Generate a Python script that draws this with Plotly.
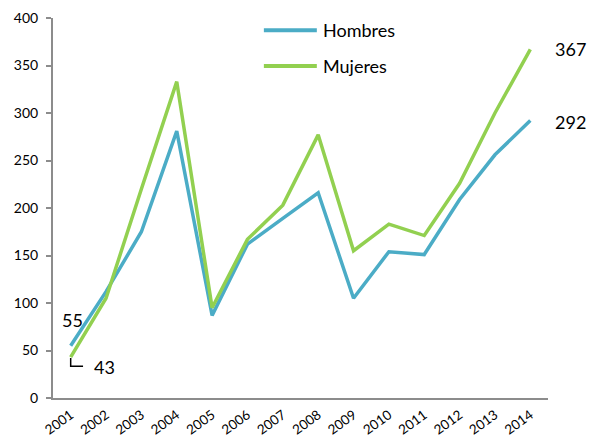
import plotly.graph_objects as go

years = ["2001", "2002", "2003", "2004", "2005", "2006", "2007",
         "2008", "2009", "2010", "2011", "2012", "2013", "2014"]
hombres = [55, 112, 175, 281, 87, 162, 189, 216, 105, 154, 151, 209, 256, 292]
mujeres = [43, 105, 220, 333, 95, 167, 203, 277, 155, 183, 171, 226, 300, 367]
series_names = ["Hombres", "Mujeres"]
y_ticks = [0, 50, 100, 150, 200, 250, 300, 350, 400]

C_H = "#4BACC6"
C_M = "#92D050"
FONT = "Lato"
AXIS = "#8c8c8c"

fig = go.Figure()
fig.add_trace(go.Scatter(x=years, y=hombres, name=series_names[0], mode="lines",
                         line=dict(color=C_H, width=3.5), cliponaxis=False,
                         showlegend=False))
fig.add_trace(go.Scatter(x=years, y=mujeres, name=series_names[1], mode="lines",
                         line=dict(color=C_M, width=3.5), cliponaxis=False,
                         showlegend=False))

lab = dict(size=18, color="black", family=FONT)
fig.add_annotation(x=0, y=hombres[0], text=str(hombres[0]), showarrow=False,
                   xanchor="center", yanchor="middle", xshift=2, yshift=26, font=lab)
fig.add_annotation(x=0, y=mujeres[0], text=str(mujeres[0]), showarrow=False,
                   xanchor="left", yanchor="middle", xshift=21, yshift=-10, font=lab)
fig.add_annotation(x=13, y=hombres[-1], text=str(hombres[-1]), showarrow=False,
                   xanchor="left", yanchor="middle", xshift=23, yshift=-1, font=lab)
fig.add_annotation(x=13, y=mujeres[-1], text=str(mujeres[-1]), showarrow=False,
                   xanchor="left", yanchor="middle", xshift=23, yshift=0, font=lab)
# leader line for the 43 label
fig.add_shape(type="path", xref="x", yref="y",
              path="M 0,%g L 0,%g L 0.35,%g" % (mujeres[0] - 1, mujeres[0] - 9.5, mujeres[0] - 9.5),
              line=dict(color="black", width=1.5))

# legend drawn manually (long line keys)
leg_y = [0.968, 0.874]
for name, col, ly in zip(series_names, [C_H, C_M], leg_y):
    fig.add_shape(type="line", xref="paper", yref="paper", x0=0.426, x1=0.533,
                  y0=ly, y1=ly, line=dict(color=col, width=4))
    fig.add_annotation(xref="paper", yref="paper", x=0.541, y=ly, text=name,
                       showarrow=False, xanchor="left", yanchor="middle",
                       font=dict(size=18, color="black", family=FONT))

fig.update_layout(
    width=590, height=439,
    margin=dict(l=53, r=42, t=18, b=41, autoexpand=False),
    plot_bgcolor="white", paper_bgcolor="white",
    font=dict(family=FONT, color="black", size=13),
    showlegend=False,
    xaxis=dict(type="category", showgrid=False, showline=True, linecolor=AXIS,
               linewidth=2, ticks="", tickangle=-36, tickfont=dict(size=13.5),
               ticklabelstandoff=2,
               range=[-0.5, 13.5], automargin=False),
    yaxis=dict(range=[0, 400], tickvals=y_ticks, showgrid=False, showline=True,
               linecolor=AXIS, linewidth=2, ticks="outside", ticklen=5,
               tickwidth=1.5, tickcolor=AXIS, zeroline=False,
               tickfont=dict(size=14), ticklabelstandoff=5, automargin=False),
)

fig.write_html("out.html", config={"displayModeBar": False},
               post_script="document.body.style.margin='0';")
